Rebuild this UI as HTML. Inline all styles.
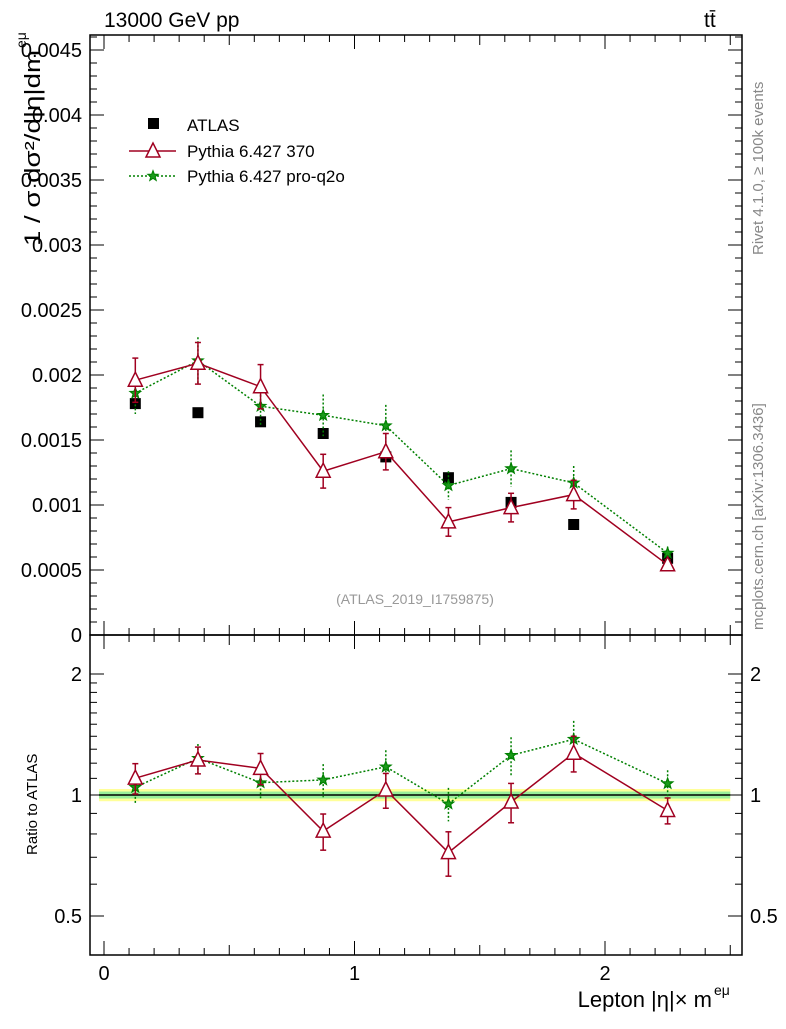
<!DOCTYPE html>
<html><head><meta charset="utf-8"><style>
body{margin:0;background:#fff;}
svg text{font-family:"Liberation Sans",sans-serif;}
</style></head><body>
<svg id="c" width="786" height="1024" xmlns="http://www.w3.org/2000/svg">
<g id="main"></g>
</svg>
<script>
const xs=[0.125,0.375,0.625,0.875,1.125,1.375,1.625,1.875,2.25];
const atlas=[0.00178,0.00171,0.00164,0.00155,0.00137,0.00121,0.00102,0.00085,0.00059];
const p370=[0.00196,0.00209,0.00191,0.00126,0.00141,0.00087,0.00098,0.00108,0.00054];
const p370err=[0.00017,0.00016,0.00017,0.00013,0.00014,0.00011,0.00011,0.00011,0.00004];
const pq2o=[0.00186,0.00211,0.00176,0.00169,0.00161,0.00115,0.00128,0.00117,0.00063];
const pq2oerr=[0.00016,0.00018,0.00015,0.00016,0.00016,0.00011,0.00014,0.00013,0.00005];
const mainTicks=[0,0.0005,0.001,0.0015,0.002,0.0025,0.003,0.0035,0.004,0.0045];
const mainTickLabels=["0","0.0005","0.001","0.0015","0.002","0.0025","0.003","0.0035","0.004","0.0045"];
const ratioTicks=[0.5,1,2];
const ratioTickLabels=["0.5","1","2"];
const xTicks=[0,1,2];
const xTickLabels=["0","1","2"];

const NS="http://www.w3.org/2000/svg";
const g=document.getElementById('main');
function el(t,a,p){const e=document.createElementNS(NS,t);for(const k in a)e.setAttribute(k,a[k]);(p||g).appendChild(e);return e;}
const L=90,R=742,T=35,M=635,B=955;
const X=v=>104+v*250.5;
const Y=v=>635-v*130000;
const YR=v=>795-Math.log2(v)*121;

let e=el('rect',{x:X(-0.02),y:YR(1.035),width:X(2.5)-X(-0.02),height:YR(0.965)-YR(1.035),fill:'#ffff99'});


e=el('rect',{x:X(-0.02),y:YR(1.02),width:X(2.5)-X(-0.02),height:YR(0.98)-YR(1.02),fill:'#99ee99'});


e=el('line',{x1:X(-0.02),x2:X(2.5),y1:YR(1),y2:YR(1),stroke:'#000','stroke-width':1.5});



e=el('rect',{x:L,y:T,width:R-L,height:M-T,fill:'none',stroke:'#000','stroke-width':1.5});


e=el('rect',{x:L,y:M,width:R-L,height:B-M,fill:'none',stroke:'#000','stroke-width':1.5});



for(let i=0;i<=46;i++){const v=i*0.0001,y=Y(v);const maj=i%5==0;const len=maj?14:7;
 el('line',{x1:L,x2:L+len,y1:y,y2:y,stroke:'#000'});el('line',{x1:R,x2:R-len,y1:y,y2:y,stroke:'#000'});}
mainTicks.forEach((v,i)=>{const t=el('text',{x:L-8,y:Y(v)+7,'text-anchor':'end','font-size':20});t.textContent=mainTickLabels[i];
 
 });
[0.5,0.6,0.7,0.8,0.9,1,1.1,1.2,1.3,1.4,1.5,1.6,1.7,1.8,1.9,2].forEach(v=>{const y=YR(v);const maj=ratioTicks.includes(v);const len=maj?14:7;
 el('line',{x1:L,x2:L+len,y1:y,y2:y,stroke:'#000'});el('line',{x1:R,x2:R-len,y1:y,y2:y,stroke:'#000'});});
ratioTicks.forEach((v,i)=>{let t=el('text',{x:L-8,y:YR(v)+7,'text-anchor':'end','font-size':20});t.textContent=ratioTickLabels[i];
 
 
 t=el('text',{x:R+8,y:YR(v)+7,'font-size':20});t.textContent=ratioTickLabels[i];
 
 });
for(let i=0;i<=25;i++){const v=i*0.1,x=X(v);const maj=i%10==0;const len=maj?14:(i%5==0?10:7);
 [T,M].forEach(y0=>el('line',{x1:x,x2:x,y1:y0,y2:y0+len,stroke:'#000'}));
 [M,B].forEach(y0=>el('line',{x1:x,x2:x,y1:y0,y2:y0-len,stroke:'#000'}));}
xTicks.forEach((v,i)=>{const t=el('text',{x:X(v),y:980,'text-anchor':'middle','font-size':20});t.textContent=xTickLabels[i];
 
 });

function series(vals,errs,yf,color,dash,marker,name,sz){
 const pts=xs.map((x,i)=>X(x)+','+yf(vals[i])).join(' ');
 let p=el('polyline',{points:pts,fill:'none',stroke:color,'stroke-width':1.5,'stroke-dasharray':dash});
 
 
 xs.forEach((x,i)=>{const cx=X(x),cy=yf(vals[i]);
  const y1=yf(vals[i]+errs[i]),y2=yf(vals[i]-errs[i]);
  let er=el('line',{x1:cx,x2:cx,y1:y1,y2:y2,stroke:color,'stroke-width':1.5,'stroke-dasharray':dash});
  
  
  if(!dash){el('line',{x1:cx-3,x2:cx+3,y1:y1,y2:y1,stroke:color,'stroke-width':1.5});el('line',{x1:cx-3,x2:cx+3,y1:y2,y2:y2,stroke:color,'stroke-width':1.5});}
  let m;
  if(marker=='tri') m=el('polygon',{points:`${cx},${cy-8} ${cx-7},${cy+6} ${cx+7},${cy+6}`,fill:'#fff',stroke:color,'stroke-width':1.5});
  else {let s='';for(let k=0;k<10;k++){const r=k%2?2.3*sz:5.5*sz,a=-Math.PI/2+k*Math.PI/5;s+=(cx+r*Math.cos(a))+','+(cy+r*Math.sin(a))+' ';}
   m=el('polygon',{points:s,fill:'#1a9a1a',stroke:color,'stroke-width':1.2});}
  
  
 });
}
xs.forEach((x,i)=>{const r=el('rect',{x:X(x)-5.5,y:Y(atlas[i])-5.5,width:11,height:11,fill:'#000'});
 
 });
series(pq2o,pq2oerr,Y,'#008000','2,2','star','pro-q2o',1);
series(p370,p370err,Y,'#a00020','','tri','pythia-370',1);
const r370=p370.map((v,i)=>v/atlas[i]),r370e=p370err.map((v,i)=>v/atlas[i]);
const rq=pq2o.map((v,i)=>v/atlas[i]),rqe=pq2oerr.map((v,i)=>v/atlas[i]);
series(rq,rqe,YR,'#008000','2,2','star','ratio-pro-q2o',1);
series(r370,r370e,YR,'#a00020','','tri','ratio-pythia-370',1);

function txt(x,y,s,fs,name,extra){const t=el('text',Object.assign({x:x,y:y,'font-size':fs},extra||{}));t.textContent=s;
 
 return t;}
e=el('rect',{x:148,y:118,width:11,height:11,fill:'#000'});


txt(187,131,'ATLAS',17,'legend-atlas');
el('line',{x1:129,x2:176,y1:151,y2:151,stroke:'#a00020','stroke-width':1.5});
el('polygon',{points:'153,143 146,157 160,157',fill:'#fff',stroke:'#a00020','stroke-width':1.5});
txt(187,157,'Pythia 6.427 370',17,'legend-pythia-370');
el('line',{x1:129,x2:176,y1:176,y2:176,stroke:'#008000','stroke-width':1.5,'stroke-dasharray':'2,2'});
{let s='';const cx=153,cy=176;for(let k=0;k<10;k++){const r=k%2?2.3:5.5,a=-Math.PI/2+k*Math.PI/5;s+=(cx+r*Math.cos(a))+','+(cy+r*Math.sin(a))+' ';}
el('polygon',{points:s,fill:'#1a9a1a',stroke:'#008000'});}
txt(187,182,'Pythia 6.427 pro-q2o',17,'legend-pro-q2o');

txt(104,27,'13000 GeV pp',21,'energy-label');
txt(704,27,'tt̄',21,'process-label');
txt(415,604,'(ATLAS_2019_I1759875)',14,'analysis-id',{'text-anchor':'middle',fill:'#999'});
txt(712,1007,'Lepton |η|× m',22,'x-axis-title',{'text-anchor':'end'});
txt(714,995,'eμ',14,'x-axis-title-sup');
txt(0,0,'1 / σ dσ²/d|η|dm',22,'y-axis-title',{transform:'translate(40,246) rotate(-90)',textLength:'196',lengthAdjust:'spacingAndGlyphs'});
txt(0,0,'eμ',14,'y-axis-title-sup',{transform:'translate(26,48) rotate(-90)'});
txt(0,0,'Ratio to ATLAS',15,'ratio-axis-title',{transform:'translate(37,855) rotate(-90)'});
txt(0,0,'Rivet 4.1.0, ≥ 100k events',15,'rivet-label',{transform:'translate(763,255) rotate(-90)',fill:'#888'});
txt(0,0,'mcplots.cern.ch [arXiv:1306.3436]',15,'mcplots-label',{transform:'translate(763,630) rotate(-90)',fill:'#888'});
</script>
</body></html>
